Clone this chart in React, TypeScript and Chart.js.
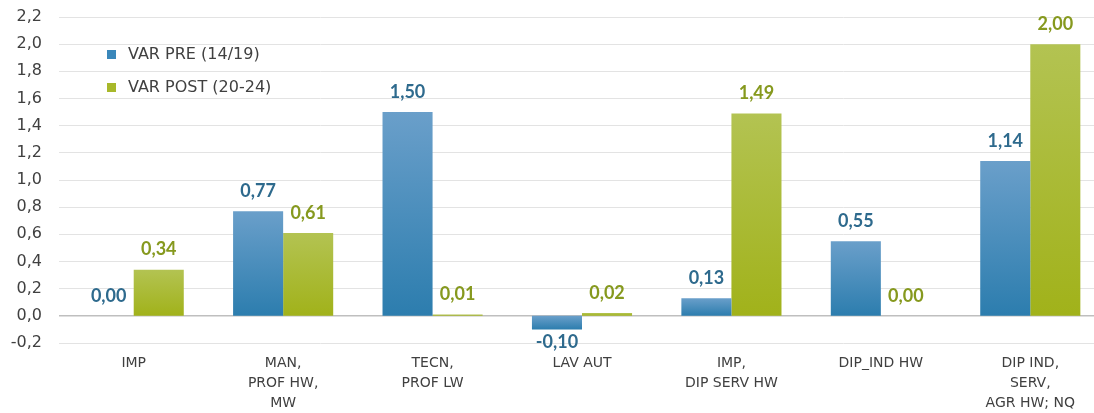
import React, { useEffect, useRef } from "react";
import { Chart, registerables } from "chart.js";

Chart.register(...registerables);

const categories: string[][] = [
  ["IMP"],
  ["MAN,", "PROF HW,", "MW"],
  ["TECN,", "PROF LW"],
  ["LAV AUT"],
  ["IMP,", "DIP SERV HW"],
  ["DIP_IND HW"],
  ["DIP IND,", "SERV,", "AGR HW; NQ"],
];
const seriesNames = ["VAR PRE (14/19)", "VAR POST (20-24)"];
const varPre = [0.0, 0.77, 1.5, -0.1, 0.13, 0.55, 1.14];
const varPost = [0.34, 0.61, 0.01, 0.02, 1.49, 0.0, 2.0];

const yMin = -0.2;
const yMax = 2.2;
const yStep = 0.2;

const BLUE_TOP = "#6A9FCA";
const BLUE_BOT = "#2C7DAE";
const GREEN_TOP = "#B3C352";
const GREEN_BOT = "#A1B21A";
const BLUE_LABEL = "#2E6A8D";
const GREEN_LABEL = "#86991E";
const TEXT = "#404040";

const fmt = (v: number, d: number) => v.toFixed(d).replace(".", ",");

function gradFor(top: string, bot: string) {
  return (ctx: any) => {
    const chart = ctx.chart;
    const y = chart.scales && chart.scales.y;
    if (!y || ctx.dataIndex === undefined) return bot;
    const v = ctx.raw as number;
    const p0 = y.getPixelForValue(0);
    const p1 = y.getPixelForValue(v);
    const a = Math.min(p0, p1);
    const b = Math.max(p0, p1);
    if (!isFinite(a) || !isFinite(b) || b - a < 1) return bot;
    const g = chart.ctx.createLinearGradient(0, a, 0, b);
    g.addColorStop(0, top);
    g.addColorStop(1, bot);
    return g;
  };
}

const labelPlugin = {
  id: "customLabels",
  afterDatasetsDraw(chart: any) {
    const ctx = chart.ctx;
    const y = chart.scales.y;
    const zero = y.getPixelForValue(0);
    ctx.save();
    ctx.font = "bold 18px Lato";
    ctx.textAlign = "center";
    ctx.textBaseline = "middle";
    chart.data.datasets.forEach((ds: any, di: number) => {
      const meta = chart.getDatasetMeta(di);
      ctx.fillStyle = di === 0 ? BLUE_LABEL : GREEN_LABEL;
      meta.data.forEach((el: any, i: number) => {
        const v = ds.data[i] as number;
        const x = el.x;
        const py = y.getPixelForValue(v);
        const ty = v < 0 ? py + 13 : Math.min(py, zero) - 20;
        ctx.fillText(fmt(v, 2), x, ty);
      });
    });
    // legend
    ctx.font = "16px 'DejaVu Sans'";
    ctx.textAlign = "left";
    const items = [
      { c: "#3A87BA", t: seriesNames[0], y: 54.5 },
      { c: "#A8B82A", t: seriesNames[1], y: 87.5 },
    ];
    items.forEach((it) => {
      ctx.fillStyle = it.c;
      ctx.fillRect(107, it.y - 4.5, 9, 9);
      ctx.fillStyle = TEXT;
      ctx.fillText(it.t, 128, it.y);
    });
    ctx.restore();
  },
};

export default function App() {
  const ref = useRef<HTMLCanvasElement | null>(null);
  useEffect(() => {
    if (!ref.current) return;
    const chart = new Chart(ref.current, {
      type: "bar",
      data: {
        labels: categories,
        datasets: [
          {
            label: seriesNames[0],
            data: varPre,
            backgroundColor: gradFor(BLUE_TOP, BLUE_BOT),
            borderWidth: 0,
            categoryPercentage: 0.67,
            barPercentage: 1.0,
          },
          {
            label: seriesNames[1],
            data: varPost,
            backgroundColor: gradFor(GREEN_TOP, GREEN_BOT),
            borderWidth: 0,
            categoryPercentage: 0.67,
            barPercentage: 1.0,
          },
        ],
      },
      options: {
        animation: false,
        responsive: true,
        maintainAspectRatio: false,
        layout: { padding: { top: 17, right: 5, left: 0, bottom: 0 } },
        plugins: {
          legend: { display: false },
          tooltip: { enabled: false },
        },
        scales: {
          x: {
            grid: { display: false, drawTicks: false },
            border: { display: false },
            ticks: {
              color: TEXT,
              font: { family: "'DejaVu Sans'", size: 14, lineHeight: 1.43 },
              padding: 10,
              maxRotation: 0,
              autoSkip: false,
            },
            afterFit: (s: any) => {
              s.height = 70;
            },
          },
          y: {
            min: yMin,
            max: yMax,
            grid: {
              drawTicks: true,
              tickLength: 17,
              tickColor: "rgba(0,0,0,0)",
              color: (c: any) =>
                c.tick && Math.abs(c.tick.value) < 1e-9 ? "#BFBFBF" : "#E3E3E3",
              lineWidth: (c: any) =>
                c.tick && Math.abs(c.tick.value) < 1e-9 ? 1.5 : 1,
            },
            border: { display: false },
            ticks: {
              stepSize: yStep,
              color: TEXT,
              font: { family: "'DejaVu Sans'", size: 16 },
              padding: 0,
              callback: (v: any) => fmt(Number(v), 1),
            },
            afterFit: (s: any) => {
              s.width = 59;
            },
          },
        },
      },
      plugins: [labelPlugin],
    });
    return () => chart.destroy();
  }, []);

  return (
    <div
      style={{
        position: "absolute",
        left: 0,
        top: 0,
        width: 1094,
        height: 413,
        overflow: "hidden",
        background: "#fff",
      }}
    >
      <div style={{ position: "relative", width: 1110, height: 413 }}>
        <canvas ref={ref} />
      </div>
    </div>
  );
}
